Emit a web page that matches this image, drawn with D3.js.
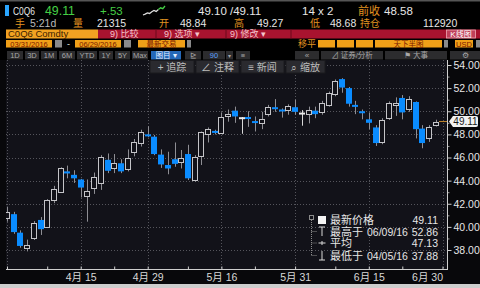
<!DOCTYPE html>
<html>
<head>
<meta charset="utf-8">
<script src="https://cdn.jsdelivr.net/npm/d3@7"></script>
<style>
  html, body { margin: 0; padding: 0; background: #000; }
  svg { display: block; }
  text { font-family: 'Liberation Sans', 'Noto Sans CJK SC', sans-serif; }
</style>
</head>
<body>
<div id="app"></div>
<script>
// trading days 03/31 .. 06/30 (6/30 only used for the axis)
const dates = ['3/31','4/1','4/4','4/5','4/6','4/7','4/8','4/11','4/12','4/13','4/14','4/15',
  '4/18','4/19','4/20','4/21','4/22','4/25','4/26','4/27','4/28','4/29',
  '5/2','5/3','5/4','5/5','5/6','5/9','5/10','5/11','5/12','5/13',
  '5/16','5/17','5/18','5/19','5/20','5/23','5/24','5/25','5/26','5/27','5/30','5/31',
  '6/1','6/2','6/3','6/6','6/7','6/8','6/9','6/10','6/13','6/14','6/15',
  '6/16','6/17','6/20','6/21','6/22','6/23','6/24','6/27','6/28','6/29','6/30'];

const open = [40.74,41.1,39.5,38.15,39.0,40.6,40.0,42.3,43.05,44.8,
  44.5,44.1,42.7,43.35,43.8,45.8,45.1,45.5,45.0,46.45,
  47.25,48.0,47.8,46.25,45.35,45.85,45.6,46.3,44.05,46.15,
  48.0,48.3,48.15,49.55,50.05,49.4,49.5,49.15,48.95,49.8,
  50.35,50.15,50.1,50.35,49.8,49.75,50.05,49.9,50.55,51.5,
  52.78,52.0,50.55,50.0,49.3,48.6,47.3,49.45,50.5,51.15,
  50.2,50.8,48.5,47.65,48.84];
const high = [41.75,41.3,39.7,38.9,40.5,40.85,42.4,43.55,45.15,45.3,
  44.9,44.15,44.1,44.7,46.2,46.35,46.3,45.85,46.7,47.6,
  48.4,48.7,47.95,46.7,46.5,47.3,46.65,47.1,46.2,48.25,
  48.6,48.4,49.9,50.15,50.4,49.5,50.0,49.55,49.95,50.55,
  51.05,50.25,50.6,51.0,50.1,50.4,50.4,50.9,51.7,52.75,
  52.86,52.1,50.9,50.15,49.9,48.8,49.4,50.85,51.2,51.4,
  51.3,50.85,48.8,48.8,49.27];
const low = [40.45,39.4,38.2,37.88,38.87,39.3,39.9,42.05,43.0,44.2,
  43.8,42.55,40.45,42.85,43.2,44.65,44.65,44.65,44.8,46.1,
  46.95,47.75,46.2,45.1,44.55,45.2,45.05,44.05,43.9,45.35,
  47.3,48.0,48.1,49.1,49.0,48.05,48.65,48.25,48.45,49.55,
  49.95,49.45,49.7,49.7,48.75,48.95,49.4,49.7,50.4,51.3,
  51.6,50.4,49.75,49.3,48.45,47.0,47.15,49.25,49.6,49.3,
  49.95,47.65,46.8,47.35,48.68];
const close = [41.31,39.55,38.35,38.43,40.3,39.8,42.3,43.3,45.05,44.62,
  44.2,43.4,43.1,44.3,46.05,44.85,45.5,44.8,46.0,47.35,
  48.2,47.85,46.3,45.4,45.05,45.45,45.95,44.2,46.05,48.2,
  48.5,48.15,49.5,49.8,49.55,49.4,49.35,49.0,49.3,50.35,
  50.2,50.0,50.45,49.95,49.8,50.1,49.75,50.7,51.55,52.65,
  52.05,50.65,50.4,49.9,49.0,47.25,49.25,50.75,50.75,49.9,
  51.05,48.45,47.25,48.65,49.11];

const yTicks = [38, 40, 42, 44, 46, 48, 50, 52, 54];
const yMinor = [39, 41, 43, 45, 47, 49, 51, 53];
const xMajor = ['4/15', '4/29', '5/16', '5/31', '6/15', '6/30'];
const xMinor = ['3/31', '4/8', '4/22', '5/9', '5/23', '6/8', '6/22'];
const monthName = { 4: '4月', 5: '5月', 6: '6月' };

const legendLabels = ['最新价格', '最高于', '平均', '最低于'];
const legendDates = ['', '06/09/16', '', '04/05/16'];
const legendValues = [49.11, 52.86, 47.13, 37.88];

const spark = [0, 0.6, 1.4, 1.0, 2.2, 3.0, 2.4, 3.6, 4.8, 4.2, 6.0];

const W = 480, H = 288;
const plot = { left: 6, right: 447, top: 60, bottom: 269 };

const ORANGE = '#e39420';
const WHITE = '#e6e6e6';
const GREEN = '#45d045';
const BLUE = '#0a8cff';

const svg = d3.select('#app').append('svg')
  .attr('width', W)
  .attr('height', H);

svg.append('rect').attr('width', W).attr('height', H).attr('fill', '#000');
svg.append('rect').attr('width', W).attr('height', 1.5).attr('fill', '#555');

const txt = (g, x, y, s, fill, size, anchor) => g.append('text')
  .attr('x', x).attr('y', y)
  .attr('fill', fill)
  .attr('font-size', size)
  .attr('text-anchor', anchor || 'start')
  .text(s);

const box = (g, x, y, w, h, fill) => g.append('rect')
  .attr('x', x).attr('y', y).attr('width', w).attr('height', h).attr('fill', fill);

// ---------- header ----------
const head = svg.append('g');
const r1 = 15;

box(head, 5, 5, 4, 11, '#2aa6ff');
txt(head, 13, r1, 'C0Q6', WHITE, 11.5)
  .attr('textLength', 22).attr('lengthAdjust', 'spacingAndGlyphs');
txt(head, 45, r1, '49.11', GREEN, 12.5)
  .attr('textLength', 30).attr('lengthAdjust', 'spacingAndGlyphs');
txt(head, 100, r1, '+.53', GREEN, 11.5);

const sx = d3.scaleLinear().domain([0, spark.length - 1]).range([143, 165]);
const sy = d3.scaleLinear().domain([0, 6]).range([15, 6]);
const sparkLine = d3.line().x((d, i) => sx(i)).y(d => sy(d));
head.append('path').attr('d', sparkLine(spark.slice(0, 8)))
  .attr('fill', 'none').attr('stroke', '#ddd').attr('stroke-width', 1.3);
head.append('path').attr('d', d3.line().x((d, i) => sx(i + 7)).y(d => sy(d))(spark.slice(7)))
  .attr('fill', 'none').attr('stroke', GREEN).attr('stroke-width', 1.3);

txt(head, 198, r1, '49.10 /49.11', WHITE, 11.5);
txt(head, 302, r1, '14 x 2', WHITE, 11.5);
txt(head, 358, r1, '前收', ORANGE, 11);
txt(head, 384, r1, '48.58', WHITE, 11.5);

const r2 = 27;
txt(head, 15, r2, '手', ORANGE, 10);
txt(head, 30, r2, '5:21d', '#bbb', 10.5);
txt(head, 73, r2, '量', ORANGE, 10);
txt(head, 97, r2, '21315', WHITE, 10.5);
txt(head, 159, r2, '开', ORANGE, 10);
txt(head, 180, r2, '48.84', WHITE, 10.5);
txt(head, 234, r2, '高', ORANGE, 10);
txt(head, 257, r2, '49.27', WHITE, 10.5);
txt(head, 310, r2, '低', ORANGE, 10);
txt(head, 330, r2, '48.68', WHITE, 10.5);
txt(head, 360, r2, '持仓', ORANGE, 10);
txt(head, 423, r2, '112920', WHITE, 10.5);

// ticker bar
box(head, 6, 29.5, 92, 9, '#f2a222');
txt(head, 8, 37.3, 'C0Q6 Comdty', '#3a1d00', 9.5);
box(head, 98, 29.5, 382, 9, '#a8132f');
[155.5, 225.5, 290.5].forEach(sxp => box(head, sxp, 29.5, 1, 9, '#6a0a1c'));
txt(head, 110, 37.3, '9) 比较', '#f5c4cc', 9);
txt(head, 164, 37.3, '9) 选项 ▾', '#f5c4cc', 9);
txt(head, 230, 37.3, '9) 修改 ▾', '#f5c4cc', 9);
head.append('rect').attr('x', 446.5).attr('y', 30).attr('width', 29).attr('height', 8)
  .attr('fill', '#c0405a').attr('stroke', '#f0a8b4').attr('stroke-width', 0.8);
txt(head, 461, 36.6, 'K线图', '#fff', 8, 'middle');

// date inputs
const inBox = (x, w, s) => {
  box(head, x, 40, w, 7.5, '#f0a018');
  txt(head, x + w / 2, 46.5, s, '#7a1600', 7.5, 'middle');
};
const greyBtn = (x, w) => box(head, x, 40, w, 7.5, '#8a8a8a');
inBox(6, 46, '03/31/2016');
greyBtn(55, 7);
txt(head, 67, 46.5, '-', WHITE, 9);
inBox(75, 46, '06/29/2016');
greyBtn(124, 7);
inBox(138, 47, '最新交易');
greyBtn(187, 4);
txt(head, 298, 47, '移平', ORANGE, 9);
inBox(318, 17, '');
inBox(337, 17, '');
inBox(356, 17, '');
inBox(375, 67, '天下半图');
greyBtn(444, 4);
inBox(455, 18, 'USD');
greyBtn(476, 4);

// range buttons
const ranges = ['1D', '3D', '1M', '6M', 'YTD', '1Y', '5Y', 'Max'];
const rangeX = [[7, 16], [25, 14], [41, 16], [59, 16], [77, 20], [99, 14], [115, 15], [132, 16]];
ranges.forEach((r, i) => {
  const [bx, w] = rangeX[i];
  box(head, bx, 51, w, 8.5, '#2c2c2e');
  txt(head, bx + w / 2, 58, r, '#a8a8a8', 7.5, 'middle');
});
box(head, 151, 51, 30, 8.5, '#2468b8');
txt(head, 166, 58, '图目 ▾', '#e8f0ff', 7.5, 'middle');
box(head, 185, 51, 16, 8.5, '#2c2c2e');
txt(head, 193, 58, '⊵', '#a8a8a8', 7.5, 'middle');
box(head, 203, 51, 22, 8.5, '#2c2c2e');
txt(head, 214, 58, '90', '#5aa0ff', 7.5, 'middle');
box(head, 226, 51, 7, 8.5, '#2c2c2e');
txt(head, 229.5, 58, '▾', '#a8a8a8', 6, 'middle');
box(head, 236, 51, 14, 8.5, '#2c2c2e');
txt(head, 243, 58, '≡', '#a8a8a8', 7.5, 'middle');
box(head, 295, 51, 24, 8.5, '#2c2c2e');
txt(head, 307, 58, '«', '#a8a8a8', 8, 'middle');
box(head, 321, 51, 62, 8.5, '#2c2c2e');
txt(head, 352, 58, '⊿ 证券/分析', '#a8a8a8', 7.5, 'middle');
box(head, 385, 51, 62, 8.5, '#2c2c2e');
txt(head, 416, 58, '⚑ 大事', '#a8a8a8', 7.5, 'middle');
box(head, 450, 51, 30, 8.5, '#2c2c2e');
txt(head, 465, 58, '⚙', '#a8a8a8', 7.5, 'middle');

// ---------- chart ----------
const x = d3.scalePoint().domain(dates).range([7, 442.5]);
const y = d3.scaleLinear().domain([38, 54]).range([250, 65]);

box(svg, 0, 60, W, 224, '#08080b');
box(svg, plot.left, plot.top, plot.right - plot.left, plot.bottom - plot.top, '#121219');

svg.append('defs').append('clipPath').attr('id', 'clip')
  .append('rect')
  .attr('x', plot.left).attr('y', plot.top)
  .attr('width', plot.right - plot.left).attr('height', plot.bottom - plot.top);

const grid = svg.append('g')
  .attr('stroke', '#55555c')
  .attr('stroke-width', 1)
  .attr('stroke-dasharray', '1,2');

grid.selectAll('line.h')
  .data(yTicks)
  .enter().append('line')
  .attr('x1', plot.left).attr('x2', plot.right)
  .attr('y1', d => Math.round(y(d)) + 0.5)
  .attr('y2', d => Math.round(y(d)) + 0.5);

grid.selectAll('line.v')
  .data(['3/31'].concat(xMajor))
  .enter().append('line')
  .attr('x1', d => Math.round(x(d)) + 0.5)
  .attr('x2', d => Math.round(x(d)) + 0.5)
  .attr('y1', plot.top).attr('y2', plot.bottom);

const candles = close.map((c, i) => ({ d: dates[i], o: open[i], h: high[i], l: low[i], c }));

const cg = svg.append('g').attr('clip-path', 'url(#clip)');

cg.selectAll('line.wick')
  .data(candles)
  .enter().append('line')
  .attr('x1', d => Math.round(x(d.d)) + 0.5)
  .attr('x2', d => Math.round(x(d.d)) + 0.5)
  .attr('y1', d => y(d.h))
  .attr('y2', d => y(d.l))
  .attr('stroke', d => d.c === d.o ? '#d8d8d8' : '#8e8e94')
  .attr('stroke-width', 1);

cg.selectAll('rect.body')
  .data(candles)
  .enter().append('rect')
  .each(function (d) {
    const cx = Math.round(x(d.d));
    const top = y(Math.max(d.o, d.c));
    const bot = y(Math.min(d.o, d.c));
    const r = d3.select(this);
    if (d.c > d.o) {
      const t = Math.round(top) + 0.5;
      const h = Math.max(2, Math.round(bot) + 0.5 - t);
      r.attr('x', cx - 2.5).attr('y', t).attr('width', 5).attr('height', h)
        .attr('fill', '#121219').attr('stroke', '#c4c4c8').attr('stroke-width', 1);
    } else if (d.c < d.o) {
      const h = Math.max(2, bot - top);
      r.attr('x', cx - 3).attr('y', top).attr('width', 6).attr('height', h)
        .attr('fill', BLUE);
    } else {
      r.attr('x', cx - 3).attr('y', top - 1).attr('width', 6).attr('height', 2)
        .attr('fill', '#e8e8e8');
    }
  });

// last price line
const last = candles[candles.length - 1];
svg.append('line')
  .attr('x1', Math.round(x(last.d)) + 3).attr('x2', plot.right)
  .attr('y1', y(last.c)).attr('y2', y(last.c))
  .attr('stroke', '#c0862c').attr('stroke-width', 1);

// overlay toolbar
const tools = ['+ 追踪', '∠ 注释', '≡ 新闻', '⌕ 缩放'];
const toolX = [[150, 44], [196, 43], [241, 43], [286, 39]];
tools.forEach((t, i) => {
  const [tx, tw] = toolX[i];
  svg.append('rect').attr('x', tx).attr('y', 60.5).attr('width', tw).attr('height', 12.5)
    .attr('fill', '#2a2a2f').attr('stroke', '#1a1a1e');
  txt(svg, tx + tw / 2, 70.5, t, '#bdbdbd', 10, 'middle');
});

// y axis
const yAxisG = svg.append('g')
  .attr('transform', `translate(${plot.right + 0.5},0)`)
  .call(d3.axisRight(y).tickValues(yTicks).tickFormat(d3.format('.2f')).tickSize(4).tickPadding(2));
yAxisG.select('.domain').remove();
yAxisG.selectAll('line').attr('stroke', '#cfcfcf');
yAxisG.selectAll('text')
  .attr('fill', WHITE)
  .attr('font-size', 10.5)
  .attr('font-family', "'Liberation Sans', sans-serif");

const yMinorG = svg.append('g')
  .attr('transform', `translate(${plot.right + 0.5},0)`)
  .call(d3.axisRight(y).tickValues(yMinor).tickFormat('').tickSize(2));
yMinorG.select('.domain').remove();
yMinorG.selectAll('line').attr('stroke', '#9a9a9a');

svg.append('line')
  .attr('x1', plot.right + 0.5).attr('x2', plot.right + 0.5)
  .attr('y1', plot.top).attr('y2', plot.bottom + 1)
  .attr('stroke', '#cfcfcf');

// last price tag
const ly = y(last.c);
svg.append('path')
  .attr('d', `M449,${ly} L453,${ly - 5.5} H476 Q478,${ly - 5.5} 478,${ly - 3.5} V${ly + 3.5} Q478,${ly + 5.5} 476,${ly + 5.5} H453 Z`)
  .attr('fill', '#f2f2f2');
txt(svg, 465.5, ly + 3.5, d3.format('.2f')(last.c), '#1a1a1a', 10, 'middle');

// x axis
const xAxisG = svg.append('g')
  .attr('transform', `translate(0,${plot.bottom + 0.5})`)
  .call(d3.axisBottom(x).tickValues(xMajor)
    .tickFormat(d => `${monthName[d.split('/')[0]]} ${d.split('/')[1]}`)
    .tickSize(-3).tickPadding(4));
xAxisG.select('.domain').remove();
xAxisG.selectAll('line').attr('stroke', '#cfcfcf');
xAxisG.selectAll('text')
  .attr('fill', '#d8d8d8')
  .attr('font-size', 10.5)
  .attr('font-family', "'Noto Sans CJK SC', 'Liberation Sans', sans-serif");
xAxisG.selectAll('.tick').filter(d => d === '6/30').select('text')
  .attr('text-anchor', 'end');

const xMinorG = svg.append('g')
  .attr('transform', `translate(0,${plot.bottom + 0.5})`)
  .call(d3.axisBottom(x).tickValues(xMinor).tickFormat('').tickSize(-3));
xMinorG.select('.domain').remove();
xMinorG.selectAll('line').attr('stroke', '#cfcfcf');

svg.append('line')
  .attr('x1', plot.left).attr('x2', plot.right + 1)
  .attr('y1', plot.bottom + 0.5).attr('y2', plot.bottom + 0.5)
  .attr('stroke', '#cfcfcf');

// legend
const lg = svg.append('g');
const rowY = [220, 231.5, 243, 255.5];
lg.append('rect').attr('x', 309.5).attr('y', 215.5).attr('width', 4).attr('height', 4)
  .attr('fill', 'none').attr('stroke', '#8a8a8a');
lg.append('path')
  .attr('d', `M311.5,220 V${rowY[3]} M311.5,${rowY[1]} H317 M311.5,${rowY[2]} H317 M311.5,${rowY[3]} H317`)
  .attr('fill', 'none').attr('stroke', '#8a8a8a').attr('stroke-dasharray', '1,1');
lg.append('rect').attr('x', 318).attr('y', 216).attr('width', 8).attr('height', 8).attr('fill', '#f4f4f4');
lg.append('path')
  .attr('d', `M319,${rowY[1] - 4.5} H325 M322,${rowY[1] - 4.5} V${rowY[1] + 4.5}
              M318.5,${rowY[2]} H325.5 M322,${rowY[2] - 2} V${rowY[2] + 2}
              M319,${rowY[3] + 4.5} H325 M322,${rowY[3] + 4.5} V${rowY[3] - 4.5}`)
  .attr('fill', 'none').attr('stroke', '#d8d8d8').attr('stroke-width', 1);

legendLabels.forEach((s, i) => {
  const by = rowY[i] + 4;
  txt(lg, 330, by, s, WHITE, 11);
  if (legendDates[i]) txt(lg, 367, by, legendDates[i], WHITE, 10.5);
  txt(lg, 438, by, d3.format('.2f')(legendValues[i]), WHITE, 10.5, 'end');
});

// bottom frame strip
box(svg, 0, 284, W, 4, '#cdcdcd');
</script>
</body>
</html>
